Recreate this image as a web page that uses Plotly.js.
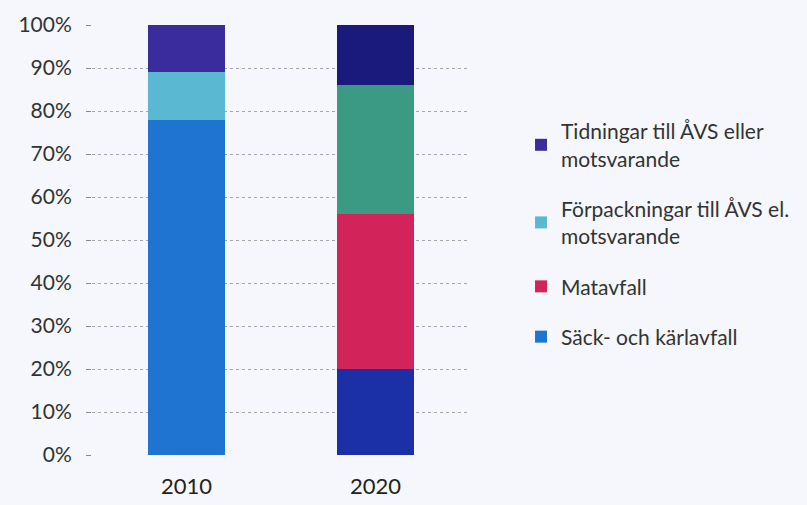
<!DOCTYPE html>
<html><head><meta charset="utf-8">
<script src="https://cdn.plot.ly/plotly-3.0.1.min.js"></script>
<style>html,body{margin:0;padding:0;background:#f5f7fc;}</style>
</head><body>
<div id="chart" style="width:807px;height:505px;"></div>
<script>
const categories = ['2010', '2020'];
const sackOchKarlavfall = [78, 20];
const matavfall = [0, 36];
const forpackningar = [11, 30];
const tidningar = [11, 14];
const seriesNames = ['Säck- och kärlavfall', 'Matavfall', 'Förpackningar till ÅVS el.<br>motsvarande', 'Tidningar till ÅVS eller<br>motsvarande'];
const yTickVals = [0,10,20,30,40,50,60,70,80,90,100];
const yTickText = ['0%','10%','20%','30%','40%','50%','60%','70%','80%','90%','100%'];

const colors = [
  ['#1f74d2', '#1b2fa6'],
  ['#d2245a', '#d2245a'],
  ['#5ab8d2', '#3a9a84'],
  ['#3a2c9c', '#191a7c']
];
const values = [sackOchKarlavfall, matavfall, forpackningar, tidningar];

const traces = values.map((v, i) => ({
  type: 'bar', x: categories, y: v, name: seriesNames[i],
  legendgroup: 'g' + i,
  legendrank: 1000 - i,
  marker: {color: colors[i], line: {width: 0}},
  hoverinfo: 'y+name'
}));

const layout = {
  width: 807, height: 505,
  paper_bgcolor: '#f5f7fc', plot_bgcolor: '#f5f7fc',
  margin: {l: 92, r: 330, t: 25, b: 50},
  barmode: 'stack', bargap: 0.596,
  font: {family: 'Lato, "Open Sans", sans-serif', color: '#333', size: 15},
  xaxis: {type: 'category', ticks: '', showline: false, showgrid: false,
          tickfont: {size: 22, color: '#222'}, ticklabelstandoff: 16},
  yaxis: {range: [0, 100], tickvals: yTickVals, ticktext: yTickText,
          showgrid: true, gridcolor: '#a4a6ae', griddash: 'dot', gridwidth: 1,
          ticks: 'outside', ticklen: 5, tickcolor: '#888', zeroline: false,
          showline: false, tickfont: {size: 21, color: '#333'}, ticklabelstandoff: 10},
  showlegend: true,
  legend: {x: 1.135, y: 0.80, xanchor: 'left', yanchor: 'top', traceorder: 'grouped',
           tracegroupgap: 20, bgcolor: 'rgba(0,0,0,0)', font: {size: 21, color: '#333'},
           itemwidth: 30}
};

Plotly.newPlot('chart', traces, layout, {displayModeBar: false, staticPlot: true});
</script>
</body></html>
